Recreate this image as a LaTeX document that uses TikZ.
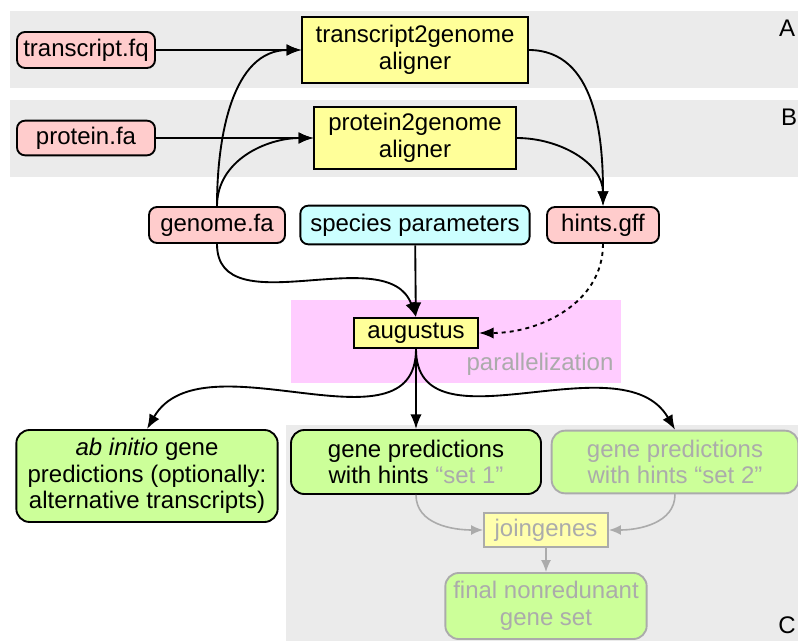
\documentclass[tikz,border=0pt]{standalone}
\usepackage{fontspec}
\setmainfont{Liberation Sans}
\usetikzlibrary{arrows.meta}
\definecolor{filepink}{HTML}{FFCCCC}
\definecolor{toolyellow}{HTML}{FFFF99}
\definecolor{paramcyan}{HTML}{CCFFFF}
\definecolor{resultgreen}{HTML}{CCFF99}
\definecolor{bandgray}{HTML}{EBEBEB}
\definecolor{bandpink}{HTML}{FFCCFF}
\definecolor{fadegray}{HTML}{ABABAB}
\begin{document}
\begin{tikzpicture}
      [x=0.75pt, y=-0.75pt,
      every node/.style={font=\fontsize{18}{20}\selectfont, align=center, inner sep=0pt},
      file/.style={draw=black, line width=1.4pt, rounded corners=6pt, fill=filepink},
      tool/.style={draw=black, line width=1.4pt, fill=toolyellow},
      result/.style={draw=black, line width=1.4pt, rounded corners=10pt, fill=resultgreen},
      faded/.style={draw=fadegray, text=fadegray},
      link/.style={-{Latex[length=11pt,width=8.5pt]}, line width=1.4pt},
      fadelink/.style={-{Latex[length=9pt,width=7.5pt]}, line width=1.2pt, draw=fadegray},
      ]
      \useasboundingbox (0,0) rectangle (798,641);
      % bands
      \fill[bandgray] (10,11) rectangle (798,88);
      \fill[bandgray] (10,100) rectangle (798,177);
      \fill[bandgray] (286,425) rectangle (798,641);
      \fill[bandpink] (291,300) rectangle (621,383);
      \node (labA) at (787,28) {A};
      \node (labB) at (789,117) {B};
      \node (labC) at (787,625) {C};
      \node[text=fadegray] (par) at (540,364) {parallelization};
      % inputs and aligners
      \node[file, minimum width=103.5pt, minimum height=27pt] (tfq) at (86,50) {transcript.fq};
      \node[file, minimum width=103.5pt, minimum height=26pt] (pfa) at (86,138) {protein.fa};
      \node[tool, minimum width=169pt, minimum height=49pt] (t2g) at (415,50) {transcript2genome\\aligner};
      \node[tool, minimum width=151pt, minimum height=47pt] (p2g) at (415,138) {protein2genome\\aligner};
      \node[file, minimum width=102pt, minimum height=27pt] (gfa) at (217,225) {genome.fa};
      \node[file, fill=paramcyan, minimum width=172pt, minimum height=29pt] (spec) at (415,225) {species parameters};
      \node[file, minimum width=84pt, minimum height=27pt] (hints) at (603,225) {hints.gff};
      \node[tool, minimum width=93pt, minimum height=22.5pt] (aug) at (416,333) {augustus};
      % results
      \node[result, minimum width=196pt, minimum height=69pt] (abin) at (147,476)
        {\textit{ab initio} gene\\predictions (optionally:\\alternative transcripts)};
      \node[result, minimum width=187.5pt, minimum height=48pt] (set1) at (416,462)
        {gene predictions\\with hints \textcolor{fadegray}{“set 1”}};
      \node[result, faded, minimum width=185pt, minimum height=47pt] (set2) at (675,462)
        {gene predictions\\with hints “set 2”};
      \node[tool, faded, fill=toolyellow!80, minimum width=93pt, minimum height=25pt] (join) at (546,530) {joingenes};
      \node[result, faded, minimum width=151pt, minimum height=49.5pt] (final) at (546,606)
        {final nonredunant\\gene set};
      % connectors
      \draw[link] (tfq) -- (t2g);
      \draw[link] (pfa) -- (p2g);
      \draw[link] (gfa.north) to[out=90, in=180] (t2g.west);
      \draw[link] (gfa.north) to[out=90, in=180] (p2g.west);
      \draw[link] (t2g.east) to[out=0, in=90] (hints.north);
      \draw[link] (p2g.east) to[out=0, in=90] (hints.north);
      \draw[link] (gfa.south) to[out=-90, in=110] (aug.north);
      \draw[link] (spec) -- (aug);
      \draw[link, dashed] (hints.south) to[out=-90, in=0] (aug.east);
      \draw[link] (aug.south) to[out=-90, in=60] (abin.north);
      \draw[link] (aug) -- (set1);
      \draw[link] (aug.south) to[out=-90, in=120] (set2.north);
      \draw[fadelink] (set1.south) to[out=-90, in=180] (join.west);
      \draw[fadelink] (set2.south) to[out=-90, in=0] (join.east);
      \draw[fadelink] (join) -- (final);
\end{tikzpicture}
\end{document}
